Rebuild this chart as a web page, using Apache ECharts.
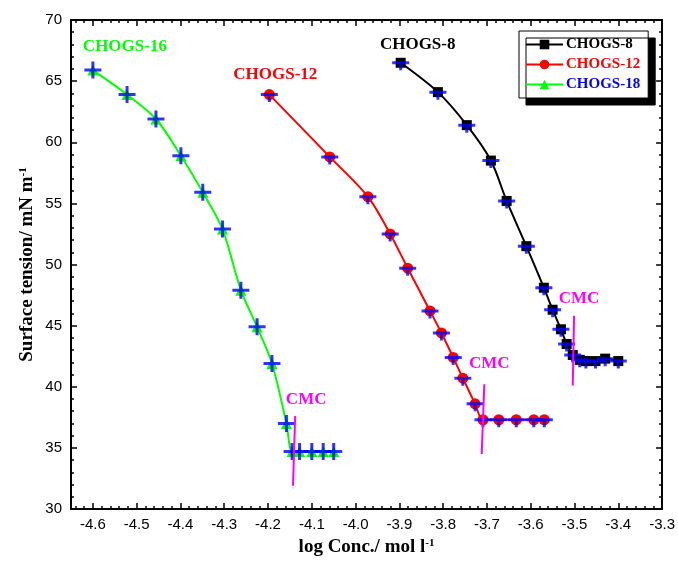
<!DOCTYPE html>
<html>
<head>
<meta charset="utf-8">
<script src="https://cdn.jsdelivr.net/npm/echarts@6/dist/echarts.min.js"></script>
<style>
  html, body { margin: 0; padding: 0; background: #fff; }
  #chart { width: 678px; height: 562px; }
</style>
</head>
<body>
<div id="chart"></div>
<script>
// x 刻度
const xTicks = [-4.6, -4.5, -4.4, -4.3, -4.2, -4.1, -4.0, -3.9, -3.8, -3.7, -3.6, -3.5, -3.4, -3.3];

// CHOGS-16 (图例里叫 CHOGS-18)
const greenX = [-4.60, -4.522, -4.456, -4.399, -4.349, -4.304, -4.262, -4.225, -4.191, -4.158, -4.145, -4.128, -4.100, -4.074, -4.050];
const greenY = [65.9, 63.9, 61.9, 58.9, 55.9, 52.9, 47.9, 44.9, 41.9, 37.0, 34.7, 34.7, 34.7, 34.7, 34.7];

// CHOGS-12
const redX = [-4.197, -4.059, -3.972, -3.921, -3.881, -3.830, -3.804, -3.777, -3.755, -3.727, -3.709, -3.673, -3.633, -3.593, -3.569];
const redY = [63.9, 58.8, 55.55, 52.5, 49.7, 46.2, 44.4, 42.4, 40.7, 38.6, 37.3, 37.3, 37.3, 37.3, 37.3];

// CHOGS-8
const blackX = [-3.897, -3.812, -3.746, -3.691, -3.655, -3.610, -3.570, -3.550, -3.531, -3.518, -3.504, -3.488, -3.474, -3.452, -3.430, -3.400];
const blackY = [66.5, 64.1, 61.4, 58.5, 55.2, 51.5, 48.1, 46.3, 44.7, 43.5, 42.6, 42.2, 42.1, 42.1, 42.3, 42.1];

// CMC 标记线 (上端, 下端)
const cmcGreen = [[-4.138, 37.6], [-4.143, 31.9]];
const cmcRed = [[-3.706, 40.2], [-3.712, 34.5]];
const cmcBlack = [[-3.501, 45.8], [-3.504, 40.1]];

const X_MIN = -4.65, X_MAX = -3.3;
const SERIF = "'Liberation Serif', 'Times New Roman', serif";
const SANS = "'Liberation Sans', Arial, sans-serif";

// 次刻度
const xMinor = [];
for (let i = 0; ; i++) {
  const v = Math.round((-4.64 + i * 0.02) * 100) / 100;
  if (v > X_MAX + 1e-9) break;
  if (Math.abs(Math.round(v * 10) - v * 10) > 1e-6) xMinor.push(v);
}

const crossFull = "path://M0,7H17V10H0Z M7,0H10V17H7Z";
const crossT = "path://M0,0H17V3H0Z M7,0H10V9H7Z";

const zip = (xs, ys) => xs.map((x, i) => [x, ys[i]]);

const makeData = (xs, ys, labelText, color, offset) => {
  const d = zip(xs, ys).map((p) => ({ value: p }));
  d[0].label = {
    show: true,
    formatter: labelText,
    position: "top",
    distance: 0,
    offset: offset,
    color: color,
    fontFamily: SERIF,
    fontWeight: "bold",
    fontSize: 17,
  };
  return d;
};

const lineSeries = (name, data, color, symbol, size) => ({
  name: name,
  type: "line",
  data: data,
  smooth: 0.3,
  symbol: symbol,
  symbolSize: size,
  showAllSymbol: true,
  lineStyle: { color: color, width: 2 },
  itemStyle: { color: color },
  z: 3,
});

const crossSeries = (xs, ys, shape) => ({
  type: "scatter",
  data: zip(xs, ys),
  symbol: shape === "full" ? crossFull : crossT,
  symbolSize: shape === "full" ? [17, 17] : [17, 9],
  symbolOffset: shape === "full" ? [0, 0] : [0, 3],
  itemStyle: { color: "#0000ff" },
  silent: true,
  z: 4,
});

const cmcSeries = (pts, offset) => ({
  type: "line",
  data: pts.map((p, i) =>
    i === 0
      ? {
          value: p,
          label: {
            show: true,
            formatter: "CMC",
            position: "top",
            distance: 0,
            offset: offset,
            color: "#ff00ff",
            fontFamily: SERIF,
            fontWeight: "bold",
            fontSize: 17,
          },
        }
      : { value: p }
  ),
  symbol: "circle",
  symbolSize: 1,
  itemStyle: { color: "rgba(0,0,0,0)" },
  lineStyle: { color: "#ff00ff", width: 2 },
  silent: true,
  z: 5,
});

const axisLine = { show: true, onZero: false, lineStyle: { color: "#000", width: 2 } };

const xBase = {
  type: "value",
  min: X_MIN,
  max: X_MAX,
  splitLine: { show: false },
};

const myChart = echarts.init(document.getElementById("chart"));
myChart.setOption({
  animation: false,
  backgroundColor: "#fff",
  grid: { left: 71, right: 11, top: 20, bottom: 52 },
  legend: {
    orient: "vertical",
    left: 519,
    top: 31,
    padding: [6, 8, 6, 6],
    itemWidth: 37,
    itemHeight: 12,
    itemGap: 5,
    backgroundColor: "#fff",
    borderColor: "#000",
    borderWidth: 1,
    borderRadius: 0,
    shadowColor: "#000",
    shadowBlur: 0,
    shadowOffsetX: 7,
    shadowOffsetY: 7,
    textStyle: { fontFamily: SERIF, fontWeight: "bold", fontSize: 15, padding: [0, 0, 0, -2] },
    data: [
      { name: "CHOGS-8", textStyle: { color: "#000" } },
      { name: "CHOGS-12", textStyle: { color: "#ff0000" } },
      { name: "CHOGS-18", textStyle: { color: "#0000ff" } },
    ],
  },
  xAxis: [
    Object.assign({}, xBase, {
      position: "bottom",
      axisLine: axisLine,
      axisLabel: {
        customValues: xTicks,
        formatter: (v) => v.toFixed(1),
        fontFamily: SANS,
        fontSize: 15,
        color: "#000",
        margin: 8,
      },
      axisTick: { customValues: xTicks, inside: true, length: 6, lineStyle: { color: "#000", width: 1.5 } },
      name: "{a|log Conc./ mol l}{s|-1}",
      nameLocation: "middle",
      nameGap: 29,
      nameMoveOverlap: false,
      nameTextStyle: {
        rich: {
          a: { fontFamily: SERIF, fontWeight: "bold", fontSize: 19, color: "#000" },
          s: { fontFamily: SERIF, fontWeight: "bold", fontSize: 11, color: "#000", verticalAlign: "top" },
        },
      },
    }),
    Object.assign({}, xBase, {
      position: "bottom",
      axisLine: { show: false },
      axisLabel: { show: false, customValues: xMinor },
      axisTick: { customValues: xMinor, inside: true, length: 3, lineStyle: { color: "#000", width: 1.5 } },
    }),
    Object.assign({}, xBase, {
      position: "top",
      axisLine: axisLine,
      axisLabel: { show: false, customValues: xTicks },
      axisTick: { customValues: xTicks, inside: true, length: 6, lineStyle: { color: "#000", width: 1.5 } },
    }),
    Object.assign({}, xBase, {
      position: "top",
      axisLine: { show: false },
      axisLabel: { show: false, customValues: xMinor },
      axisTick: { customValues: xMinor, inside: true, length: 3, lineStyle: { color: "#000", width: 1.5 } },
    }),
  ],
  yAxis: [
    {
      type: "value",
      position: "left",
      min: 30,
      max: 70,
      interval: 5,
      splitLine: { show: false },
      axisLine: axisLine,
      axisTick: { inside: true, length: 6, lineStyle: { color: "#000", width: 1.5 } },
      minorTick: { show: true, splitNumber: 5, length: 3, lineStyle: { color: "#000", width: 1.5 } },
      axisLabel: { fontFamily: SANS, fontSize: 15, color: "#000", margin: 9 },
      name: "{a|Surface tension/ mN m}{s|-1}",
      nameLocation: "middle",
      nameGap: 34,
      nameMoveOverlap: false,
      nameTextStyle: {
        rich: {
          a: { fontFamily: SERIF, fontWeight: "bold", fontSize: 19, color: "#000" },
          s: { fontFamily: SERIF, fontWeight: "bold", fontSize: 11, color: "#000", verticalAlign: "top" },
        },
      },
    },
    {
      type: "value",
      position: "right",
      min: 30,
      max: 70,
      interval: 5,
      splitLine: { show: false },
      axisLine: axisLine,
      axisTick: { inside: true, length: 6, lineStyle: { color: "#000", width: 1.5 } },
      minorTick: { show: true, splitNumber: 5, length: 3, lineStyle: { color: "#000", width: 1.5 } },
      axisLabel: { show: false },
    },
  ],
  series: [
    lineSeries("CHOGS-8", makeData(blackX, blackY, "CHOGS-8", "#000", [17, -5]), "#000", "rect", 10),
    lineSeries("CHOGS-12", makeData(redX, redY, "CHOGS-12", "#ff0000", [6, -6]), "#ff0000", "circle", 11),
    lineSeries("CHOGS-18", makeData(greenX, greenY, "CHOGS-16", "#00ff00", [32, -10]), "#00ff00", "triangle", 11),
    crossSeries(blackX, blackY, "t"),
    crossSeries(redX, redY, "t"),
    crossSeries(greenX, greenY, "full"),
    cmcSeries(cmcGreen, [11, -7]),
    cmcSeries(cmcRed, [5, -12]),
    cmcSeries(cmcBlack, [5, -8]),
  ],
});
</script>
</body>
</html>
